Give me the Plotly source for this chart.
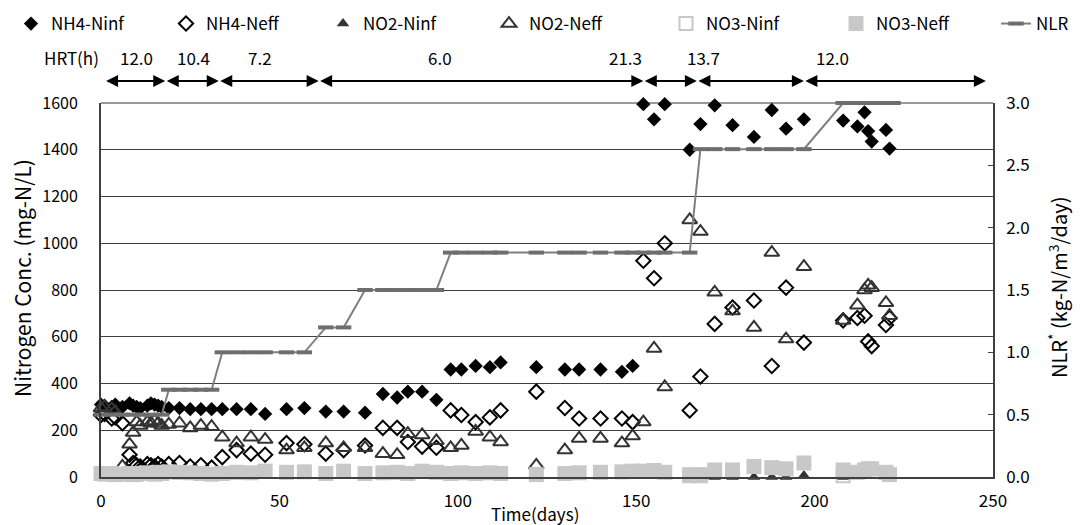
import plotly.graph_objects as go

# ---------------- data ----------------
days = [0, 1, 3, 4, 6, 8, 9, 10, 11, 13, 14, 15, 16, 17, 19, 22, 25, 28, 31, 34,
        38, 42, 46, 52, 57, 63, 68, 74, 79, 83, 86, 90, 94, 98, 101, 105, 109, 112,
        122, 130, 134, 140, 146, 149, 152, 155, 158, 165, 168, 172, 177, 183, 188,
        192, 197, 208, 212, 214, 215, 216, 220, 221]

nh4_inf = [310, 305, 300, 310, 300, 315, 305, 300, 295, 305, 315, 310, 305, 300, 295,
           295, 290, 290, 290, 290, 290, 290, 270, 290, 295, 280, 280, 275, 355, 340,
           365, 365, 330, 460, 460, 475, 470, 490, 470, 460, 460, 460, 450, 475, 1595,
           1530, 1595, 1400, 1510, 1590, 1505, 1455, 1570, 1490, 1530, 1525, 1500, 1560,
           1480, 1435, 1485, 1405]

nh4_eff = [265, 270, 250, 255, 230, 95, 60, 50, 45, 55, 50, 45, 55, 45, 55, 60, 45, 50,
           40, 85, 115, 100, 95, 145, 140, 100, 115, 135, 210, 210, 150, 130, 125, 285,
           265, 235, 255, 285, 365, 295, 250, 250, 250, 235, 925, 850, 1000, 285, 430,
           655, 725, 755, 475, 810, 575, 670, 680, 690, 580, 560, 650, 680]

no2_eff = [295, 300, 290, 280, 45, 140, 190, 235, 220, 235, 230, 240, 230, 220, 225,
           230, 210, 220, 215, 170, 145, 170, 160, 115, 125, 145, 125, 125, 100, 95,
           185, 180, 155, 125, 135, 195, 170, 150, 50, 115, 165, 165, 145, 175, 235,
           550, 385, 1100, 1050, 790, 710, 640, 960, 590, 900, 670, 735, 800, 820, 810,
           745, 690]

no3_eff = [15, 12, 15, 10, 12, 15, 10, 12, 15, 18, 15, 12, 20, 15, 22, 20, 18, 15, 12,
           15, 20, 18, 25, 20, 22, 15, 25, 15, 18, 20, 15, 25, 20, 15, 18, 15, 18, 15,
           10, 15, 18, 20, 22, 25, 25, 28, 20, 10, 10, 30, 30, 45, 40, 35, 60, 30, 20,
           30, 35, 35, 20, 10]

no2_inf_days = [165, 168, 172, 177, 183, 188, 192, 197, 208, 221]
no2_inf = [0, 0, 0, 0, 0, 0, 0, 6, 0, 8]

no3_inf_days = [165, 168, 208]
no3_inf = [5, 5, 5]

nlr_days = [0, 3, 6, 9, 11, 14, 17, 19, 22, 25, 28, 31, 34, 38, 42, 46, 52, 57, 63, 68,
            74, 79, 83, 86, 90, 94, 98, 101, 105, 109, 112, 122, 130, 134, 140, 146,
            149, 152, 155, 158, 165, 168, 172, 177, 183, 188, 192, 197, 208, 212, 214,
            216, 219, 222]
nlr = [0.5] * 7 + [0.7] * 5 + [1.0] * 6 + [1.2] * 2 + [1.5] * 6 + [1.8] * 15 + \
      [2.63] * 7 + [3.0] * 6

hrt_bounds = [1, 18, 33, 61, 152, 167, 197, 248]
hrt_labels = ["12.0", "10.4", "7.2", "6.0", "21.3", "13.7", "12.0"]
hrt_label_days = [10, 26, 44.5, 95, 147, 169, 205]

x_ticks = [0, 50, 100, 150, 200, 250]
y_ticks = [0, 200, 400, 600, 800, 1000, 1200, 1400, 1600]
y2_ticks = [0, 0.5, 1.0, 1.5, 2.0, 2.5, 3.0]

# ---------------- layout helpers ----------------
# the page body adds an 8px offset; the figure is sized so it fits the window
FONT = "Noto Sans CJK JP, Noto Sans, sans-serif"
OFF = 8
W, H = 1088 - OFF, 525 - OFF
L, T = 101 - OFF, 103 - OFF
R = W - (993 - OFF)
B = H - (477 - OFF)
PW, PH = W - L - R, H - T - B


def px_x(sx):
    return (sx - OFF - L) / PW


def px_y(sy):
    return (H - B - (sy - OFF)) / PH


fig = go.Figure()

common = dict(mode="markers", cliponaxis=False)
fig.add_trace(go.Scatter(x=days, y=nh4_inf, name="NH4-Ninf", legend="legend",
                         marker=dict(symbol="diamond", size=11, color="black"), **common))
fig.add_trace(go.Scatter(x=days, y=nh4_eff, name="NH4-Neff", legend="legend2",
                         marker=dict(symbol="diamond-open", size=11, color="black",
                                     line=dict(width=2, color="black")), **common))
fig.add_trace(go.Scatter(x=no2_inf_days, y=no2_inf, name="NO2-Ninf", legend="legend3",
                         marker=dict(symbol="triangle-up", size=11, color="#333333"), **common))
fig.add_trace(go.Scatter(x=days, y=no2_eff, name="NO2-Neff", legend="legend4",
                         marker=dict(symbol="triangle-up-open", size=13, color="#333333",
                                     line=dict(width=2, color="#333333")), **common))
fig.add_trace(go.Scatter(x=no3_inf_days, y=no3_inf, name="NO3-Ninf", legend="legend5",
                         marker=dict(symbol="square-open", size=13, color="#c8c8c8",
                                     line=dict(width=2, color="#c8c8c8")), **common))
fig.add_trace(go.Scatter(x=days, y=no3_eff, name="NO3-Neff", legend="legend6",
                         marker=dict(symbol="square", size=15, color="#c8c8c8"), **common))
fig.add_trace(go.Scatter(x=nlr_days, y=nlr, name="NLR", legend="legend7", yaxis="y2",
                         mode="lines+markers", cliponaxis=False,
                         line=dict(color="#7f7f7f", width=2),
                         marker=dict(symbol="line-ew", size=11, color="#6e6e6e",
                                     line=dict(width=4, color="#6e6e6e"))))

leg_common = dict(orientation="h", yanchor="top", xanchor="left",
                  bgcolor="rgba(0,0,0,0)", borderwidth=0,
                  font=dict(family=FONT, size=17, color="black"),
                  y=px_y(OFF - 2))
leg_sym_px = [31, 186, 343, 509, 686, 856, 1016]
legends = {}
for i, sx in enumerate(leg_sym_px):
    key = "legend" if i == 0 else f"legend{i + 1}"
    legends[key] = dict(leg_common, x=px_x(sx - 20))

annotations = []
# HRT arrows
for a, b in zip(hrt_bounds[:-1], hrt_bounds[1:]):
    annotations.append(dict(x=b, y=px_y(81), xref="x", yref="paper", ax=a, ay=0,
                            axref="x", ayref="pixel", text="", showarrow=True,
                            arrowhead=2, startarrowhead=2, arrowside="end+start",
                            arrowsize=1.2, startarrowsize=1.2, arrowwidth=2,
                            arrowcolor="black", standoff=0, startstandoff=0))
for lab, d in zip(hrt_labels, hrt_label_days):
    annotations.append(dict(x=d, y=px_y(58), xref="x", yref="paper", text=lab,
                            xanchor="center", yanchor="middle", showarrow=False,
                            font=dict(family=FONT, size=17, color="black")))
annotations.append(dict(x=px_x(71), y=px_y(58), xref="paper", yref="paper", text="HRT(h)",
                        xanchor="center", yanchor="middle", showarrow=False,
                        font=dict(family=FONT, size=17, color="black")))
# axis titles
annotations.append(dict(x=px_x(535), y=px_y(513), xref="paper", yref="paper",
                        text="Time(days)", xanchor="center", yanchor="middle",
                        showarrow=False, font=dict(family=FONT, size=17, color="black")))
annotations.append(dict(x=px_x(22), y=px_y(278), xref="paper", yref="paper",
                        text="Nitrogen Conc. (mg-N/L)", textangle=-90, xanchor="center",
                        yanchor="middle", showarrow=False,
                        font=dict(family=FONT, size=21, color="black")))
annotations.append(dict(x=px_x(1058), y=px_y(288), xref="paper", yref="paper",
                        text="NLR<sup>*</sup> (kg-N/m<sup>3</sup>/day)", textangle=-90,
                        xanchor="center", yanchor="middle", showarrow=False,
                        font=dict(family=FONT, size=20, color="black")))

shapes = [dict(type="line", xref="paper", yref="paper", x0=0, x1=1, y0=1, y1=1,
               line=dict(color="#9a9a9a", width=2), layer="below")]

fig.update_layout(
    width=W, height=H,
    margin=dict(l=L, r=R, t=T, b=B, pad=0, autoexpand=False),
    paper_bgcolor="white", plot_bgcolor="white",
    font=dict(family=FONT, size=17, color="black"),
    showlegend=True,
    annotations=annotations,
    shapes=shapes,
    xaxis=dict(range=[0, 250], tickvals=x_ticks, showgrid=False, zeroline=False,
               showline=True, linecolor="#404040", linewidth=1.5, ticks="",
               ticklabelstandoff=8, tickfont=dict(family=FONT, size=17, color="black")),
    yaxis=dict(range=[0, 1600], tickvals=y_ticks, showgrid=True, gridcolor="#404040",
               gridwidth=1, zeroline=False, showline=True, linecolor="#404040",
               linewidth=2, ticks="inside", ticklen=5, tickcolor="#404040",
               ticklabelstandoff=18, tickfont=dict(family=FONT, size=16, color="black")),
    yaxis2=dict(range=[0, 3], tickvals=y2_ticks, tickformat=".1f", overlaying="y",
                side="right", showgrid=False, zeroline=False, showline=True,
                linecolor="#404040", linewidth=1.5, ticks="inside", ticklen=5,
                tickcolor="#404040", ticklabelstandoff=8,
                tickfont=dict(family=FONT, size=17, color="black")),
    **legends,
)

fig.write_html("out.html")
